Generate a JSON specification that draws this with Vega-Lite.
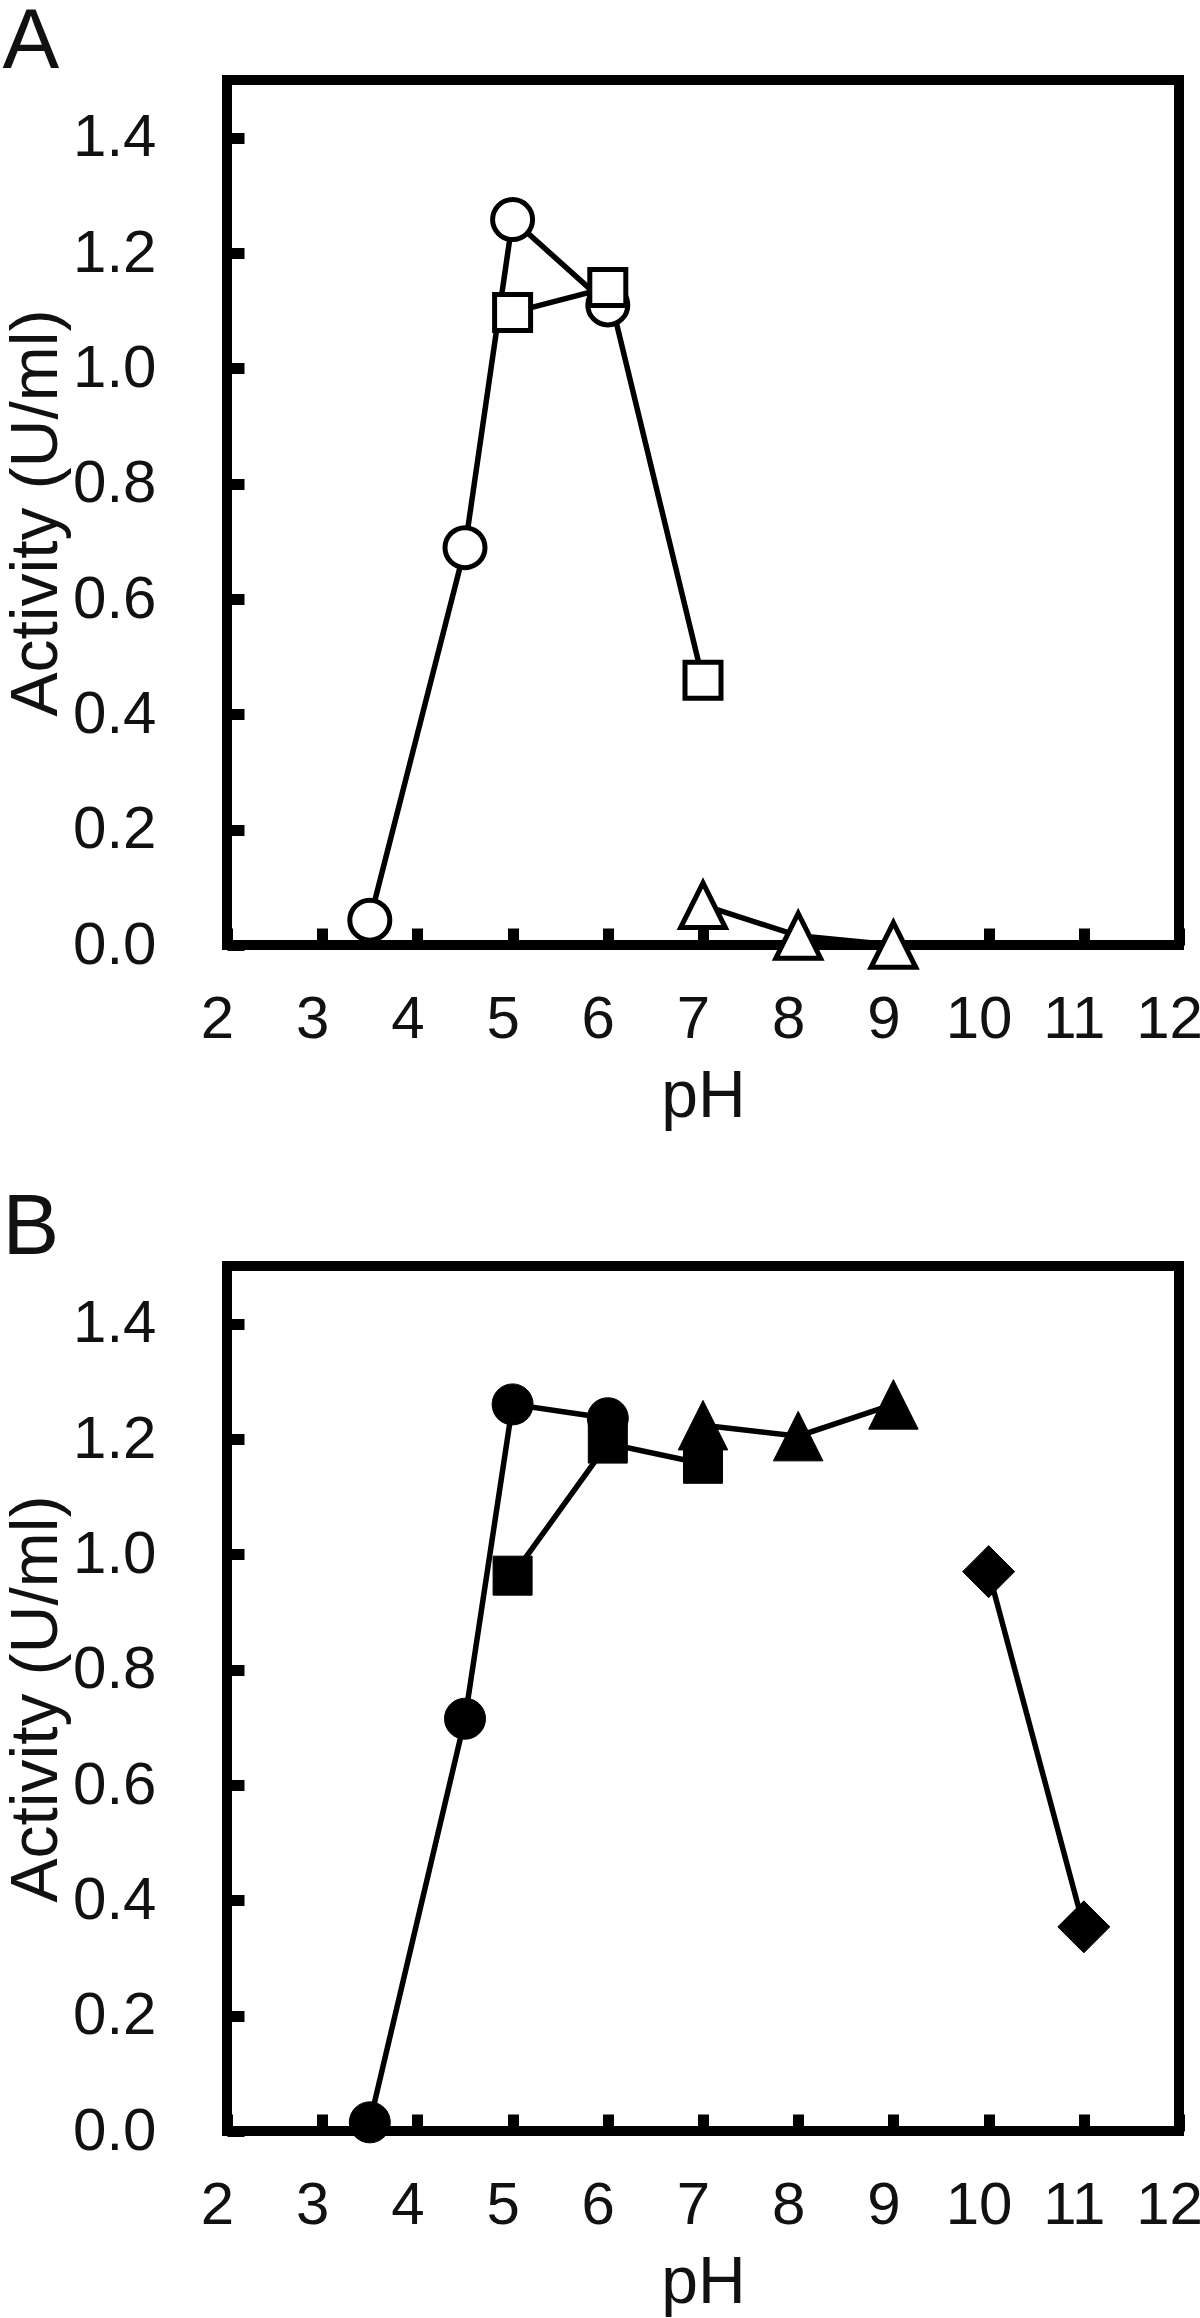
{
  "$schema": "https://vega.github.io/schema/vega-lite/v6.json",
  "padding": {"left": -3, "top": -5, "right": 0, "bottom": 0},
  "background": "white",
  "datasets": {
    "panelA": [
      {"series": "circle", "pH": 3.5, "activity": 0.043},
      {"series": "circle", "pH": 4.5, "activity": 0.689},
      {"series": "circle", "pH": 5, "activity": 1.258},
      {"series": "circle", "pH": 6, "activity": 1.11},
      {"series": "square", "pH": 5, "activity": 1.097},
      {"series": "square", "pH": 6, "activity": 1.14},
      {"series": "square", "pH": 7, "activity": 0.459},
      {"series": "triangle", "pH": 7, "activity": 0.069},
      {"series": "triangle", "pH": 8, "activity": 0.016},
      {"series": "triangle", "pH": 9, "activity": 0.0}
    ],
    "panelB": [
      {"series": "circle", "pH": 3.5, "activity": 0.015},
      {"series": "circle", "pH": 4.5, "activity": 0.715},
      {"series": "circle", "pH": 5, "activity": 1.26},
      {"series": "circle", "pH": 6, "activity": 1.236},
      {"series": "square", "pH": 5, "activity": 0.963},
      {"series": "square", "pH": 6, "activity": 1.192},
      {"series": "square", "pH": 7, "activity": 1.157},
      {"series": "triangle", "pH": 7, "activity": 1.224},
      {"series": "triangle", "pH": 8, "activity": 1.205},
      {"series": "triangle", "pH": 9, "activity": 1.26},
      {"series": "diamond", "pH": 10, "activity": 0.97},
      {"series": "diamond", "pH": 11, "activity": 0.354}
    ]
  },
  "config": {
    "font": "Liberation Sans",
    "view": {"stroke": "black", "strokeWidth": 10},
    "axis": {
      "domain": false, "grid": false, "ticks": true,
      "tickColor": "black", "tickWidth": 11, "tickSize": -17,
      "labelFont": "Liberation Sans", "labelFontSize": 60, "labelColor": "#111",
      "labelFlush": false, "labelOverlap": false,
      "titleFont": "Liberation Sans", "titleFontSize": 66, "titleFontWeight": "normal", "titleColor": "#111",
      "zindex": 0
    },
    "axisX": {"labelPadding": 62, "titlePadding": 15, "labelOffset": -10},
    "axisY": {"labelPadding": 88, "titlePadding": 2},
    "title": {"fontSize": 85, "fontWeight": "normal", "anchor": "start", "frame": "bounds", "color": "#111", "offset": -6, "dx": -1},
    "legend": {"disable": true}
  },
  "spacing": 47,
  "vconcat": [
    {
      "title": "A",
      "width": 952,
      "height": 865,
      "data": {"name": "panelA"},
      "encoding": {
        "x": {"field": "pH", "type": "quantitative", "scale": {"domain": [2, 12], "nice": false, "zero": false},
              "axis": {"values": [2, 3, 4, 5, 6, 7, 8, 9, 10, 11, 12], "format": "d", "title": "pH"}},
        "y": {"field": "activity", "type": "quantitative", "scale": {"domain": [0, 1.5], "nice": false},
              "axis": {"values": [0, 0.2, 0.4, 0.6, 0.8, 1.0, 1.2, 1.4], "format": ".1f", "title": "Activity (U/ml)"}}
      },
      "layer": [
        {"mark": {"type": "line", "color": "black", "strokeWidth": 5.5},
         "encoding": {"detail": {"field": "series", "type": "nominal"}}},
        {"transform": [{"filter": "datum.series === 'circle'"}],
         "mark": {"type": "point", "shape": "circle", "size": 1600, "filled": true, "fill": "white", "stroke": "black", "strokeWidth": 5, "opacity": 1}},
        {"transform": [{"filter": "datum.series === 'square'"}],
         "mark": {"type": "point", "shape": "square", "size": 1296, "filled": true, "fill": "white", "stroke": "black", "strokeWidth": 5, "opacity": 1}},
        {"transform": [{"filter": "datum.series === 'triangle'"}],
         "mark": {"type": "point", "shape": "M0,-1L1,1L-1,1Z", "size": 2000, "filled": true, "fill": "white", "stroke": "black", "strokeWidth": 5, "opacity": 1}}
      ]
    },
    {
      "title": "B",
      "width": 952,
      "height": 865,
      "data": {"name": "panelB"},
      "encoding": {
        "x": {"field": "pH", "type": "quantitative", "scale": {"domain": [2, 12], "nice": false, "zero": false},
              "axis": {"values": [2, 3, 4, 5, 6, 7, 8, 9, 10, 11, 12], "format": "d", "title": "pH"}},
        "y": {"field": "activity", "type": "quantitative", "scale": {"domain": [0, 1.5], "nice": false},
              "axis": {"values": [0, 0.2, 0.4, 0.6, 0.8, 1.0, 1.2, 1.4], "format": ".1f", "title": "Activity (U/ml)"}}
      },
      "layer": [
        {"mark": {"type": "line", "color": "black", "strokeWidth": 5.5},
         "encoding": {"detail": {"field": "series", "type": "nominal"}}},
        {"transform": [{"filter": "datum.series === 'circle'"}],
         "mark": {"type": "point", "shape": "circle", "size": 1681, "filled": true, "fill": "black", "stroke": "black", "strokeWidth": 1, "opacity": 1}},
        {"transform": [{"filter": "datum.series === 'square'"}],
         "mark": {"type": "point", "shape": "square", "size": 1521, "filled": true, "fill": "black", "stroke": "black", "strokeWidth": 1, "opacity": 1}},
        {"transform": [{"filter": "datum.series === 'triangle'"}],
         "mark": {"type": "point", "shape": "M0,-1L1,1L-1,1Z", "size": 2450, "filled": true, "fill": "black", "stroke": "black", "strokeWidth": 1, "opacity": 1}},
        {"transform": [{"filter": "datum.series === 'diamond'"}],
         "mark": {"type": "point", "shape": "diamond", "size": 2704, "filled": true, "fill": "black", "stroke": "black", "strokeWidth": 1, "opacity": 1}}
      ]
    }
  ]
}
